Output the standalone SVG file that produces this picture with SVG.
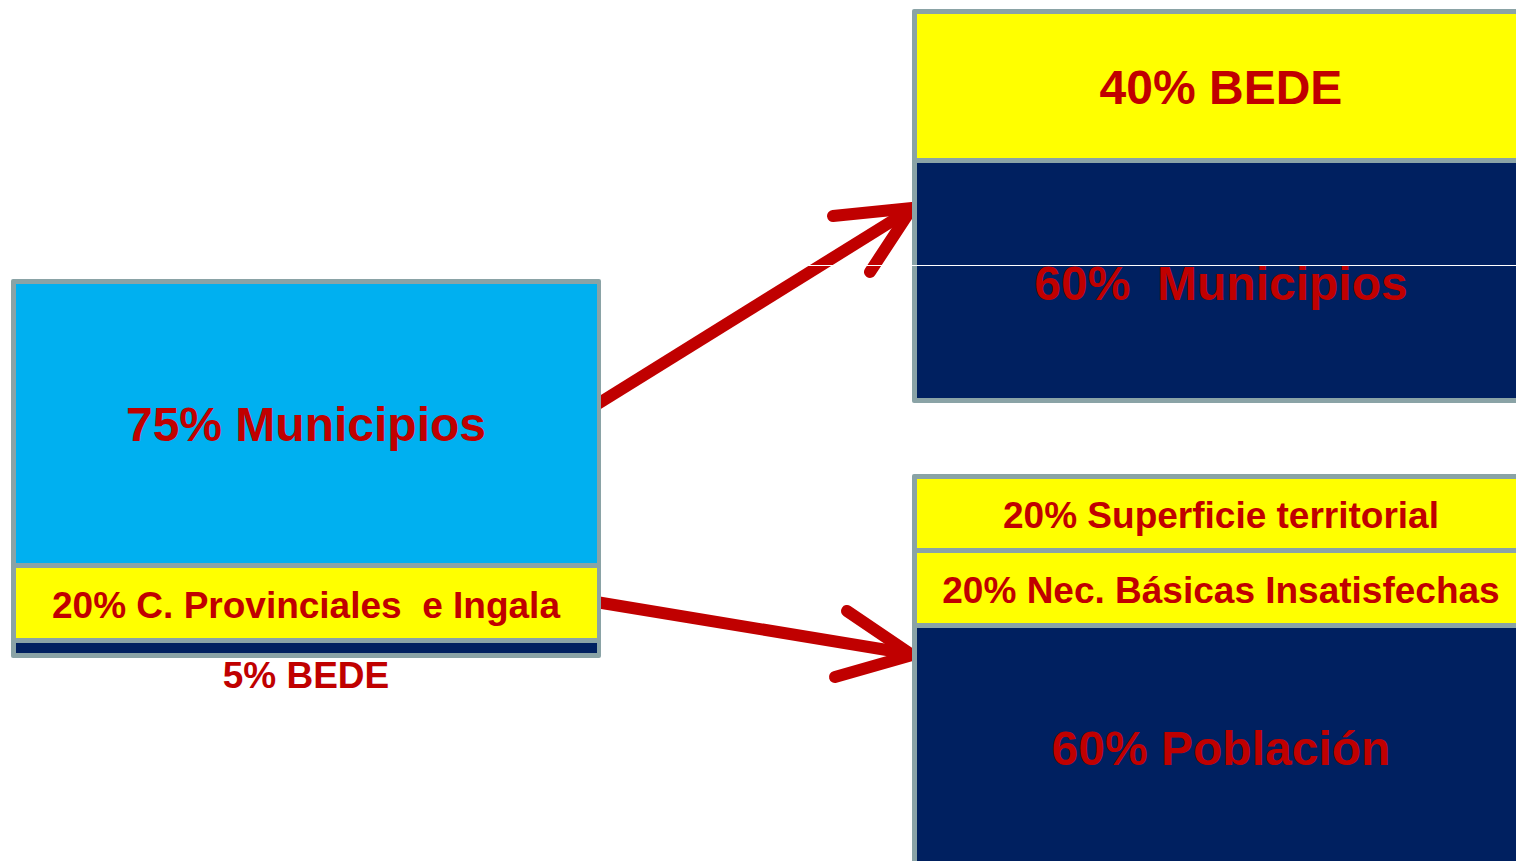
<svg xmlns="http://www.w3.org/2000/svg" width="1516" height="861" viewBox="0 0 1516 861">
<style>
.frame{fill:#8AA3A6}
.cyan{fill:#00B0F0}
.yel{fill:#FFFF00}
.navy{fill:#002060}
.t{font-family:"Liberation Sans",Arial,sans-serif;font-weight:bold;fill:#C00000;text-anchor:middle}
.big{font-size:48px}
.sm{font-size:37px}
.conn{fill:none;stroke:#C00000;stroke-width:12}
</style>
<rect width="1516" height="861" fill="#FFFFFF"/>
<g id="connectors">
<line class="conn" x1="596" y1="405" x2="905" y2="213"/>
<path class="conn" d="M833,216 L912,208 L870,272" stroke-linecap="round" stroke-linejoin="miter"/>
<line class="conn" x1="596" y1="602" x2="905" y2="653"/>
<path class="conn" d="M847,611 L912,655 L835,677" stroke-linecap="round" stroke-linejoin="miter"/>
</g>
<g id="left-box">
<rect class="frame" x="11" y="279" width="590" height="379" rx="2"/>
<rect class="cyan" x="16" y="284" width="581" height="279"/>
<rect class="yel" x="16" y="568" width="581" height="70"/>
<rect class="navy" x="16" y="643" width="581" height="10"/>
<text class="t big" x="306" y="441">75% Municipios</text>
<text class="t sm" x="306" y="618" xml:space="preserve">20% C. Provinciales  e Ingala</text>
<text class="t sm" x="306" y="688">5% BEDE</text>
</g>
<g id="top-right-box">
<rect class="frame" x="912" y="9" width="620" height="394" rx="2"/>
<rect class="yel" x="917" y="14" width="615" height="144"/>
<rect class="navy" x="917" y="163" width="615" height="235"/>
<text class="t big" x="1221" y="104">40% BEDE</text>
<text class="t big" x="1221" y="300" xml:space="preserve">60%  Municipios</text>
</g>
<g id="bottom-right-box">
<rect class="frame" x="912" y="474" width="620" height="400" rx="2"/>
<rect class="yel" x="917" y="479" width="615" height="69"/>
<rect class="yel" x="917" y="553" width="615" height="70"/>
<rect class="navy" x="917" y="628" width="615" height="246"/>
<text class="t sm" x="1221" y="528">20% Superficie territorial</text>
<text class="t sm" x="1221" y="603">20% Nec. Básicas Insatisfechas</text>
<text class="t big" x="1221" y="765">60% Población</text>
</g>
<line x1="806" y1="265.5" x2="1516" y2="265.5" stroke="#FFFFFF" stroke-width="1"/>
</svg>
